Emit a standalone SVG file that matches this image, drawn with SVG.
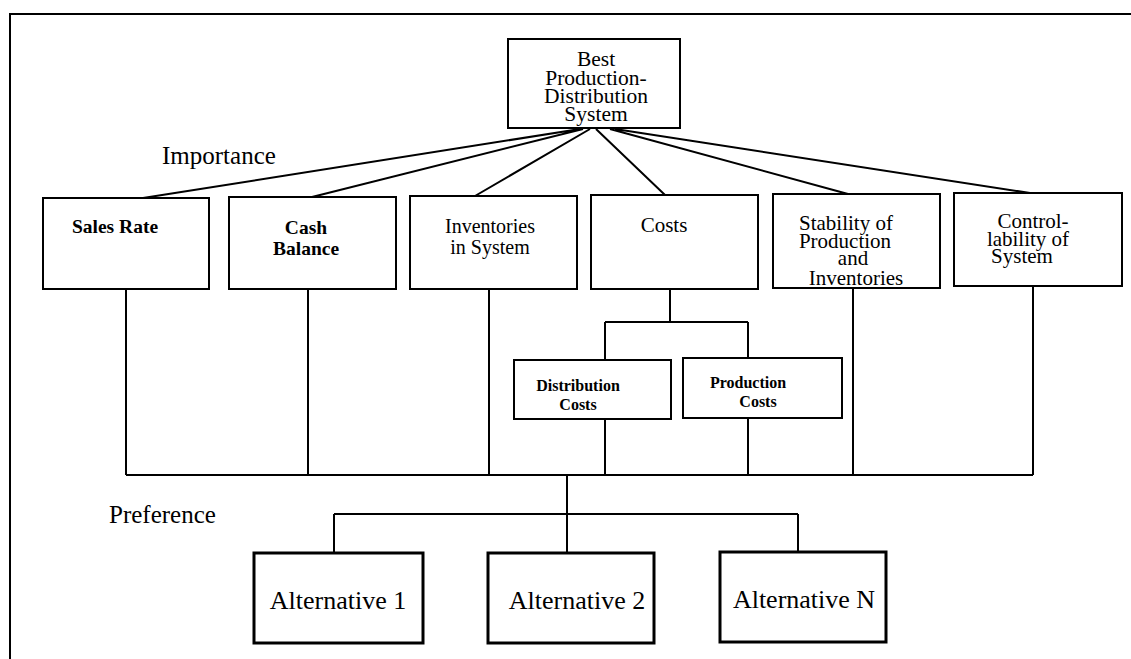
<svg xmlns="http://www.w3.org/2000/svg" width="1131" height="659" viewBox="0 0 1131 659">
<style>
.box{fill:#fff;stroke:#000;stroke-width:2}
.alt{fill:#fff;stroke:#000;stroke-width:3}
.ln{fill:none;stroke:#000;stroke-width:2}
text{font-family:"Liberation Serif","Times New Roman",serif;fill:#000}
.b{font-weight:bold}
</style>
<rect width="1131" height="659" fill="#fff"/>
<g id="frame"><path class="ln" d="M10,659 V14 H1131"/></g>
<g id="connectors">
<path class="ln" d="M580,129 L143,198 M583,129 L312,197 M590,129 L475,196 M596,129 L665,195 M610,129 L848,194 M615,129 L1030,193"/>
<path class="ln" d="M670,289 V322 M605,322 H748 M605,322 V360 M748,322 V358"/>
<path class="ln" d="M126,289 V475 M308,289 V475 M489,289 V475 M605,419 V475 M748,418 V475 M853,288 V475 M1033,286 V475 M126,475 H1033"/>
<path class="ln" d="M567,475 V553 M334,514 H798 M334,514 V553 M798,514 V552"/>
</g>
<g id="labels">
<text x="162" y="164" font-size="25">Importance</text>
<text x="109" y="523" font-size="25">Preference</text>
</g>
<g id="best">
<rect class="box" x="508" y="39" width="172" height="89"/>
<text font-size="21.5" text-anchor="middle"><tspan x="596" y="66">Best</tspan><tspan x="596" y="84.5">Production-</tspan><tspan x="596" y="103">Distribution</tspan><tspan x="596" y="121">System</tspan></text>
</g>
<g id="sales">
<rect class="box" x="43" y="198" width="166" height="91"/>
<text class="b" x="115" y="233" font-size="19.5" text-anchor="middle">Sales Rate</text>
</g>
<g id="cash">
<rect class="box" x="229" y="197" width="167" height="92"/>
<text class="b" font-size="19.5" text-anchor="middle"><tspan x="306" y="234">Cash</tspan><tspan x="306" y="255">Balance</tspan></text>
</g>
<g id="inventories">
<rect class="box" x="410" y="196" width="167" height="93"/>
<text font-size="20" text-anchor="middle"><tspan x="490" y="233">Inventories</tspan><tspan x="490" y="254">in System</tspan></text>
</g>
<g id="costs">
<rect class="box" x="591" y="195" width="167" height="94"/>
<text x="664" y="232" font-size="21" text-anchor="middle">Costs</text>
</g>
<g id="stability">
<rect class="box" x="773" y="194" width="167" height="94"/>
<text font-size="21" text-anchor="middle"><tspan x="846" y="230">Stability of</tspan><tspan x="845" y="247.5">Production</tspan><tspan x="853" y="265">and</tspan><tspan x="856" y="285">Inventories</tspan></text>
</g>
<g id="controllability">
<rect class="box" x="954" y="193" width="168" height="93"/>
<text font-size="21" text-anchor="middle"><tspan x="1033" y="228">Control-</tspan><tspan x="1028" y="245.5">lability of</tspan><tspan x="1022" y="263">System</tspan></text>
</g>
<g id="distribution-costs">
<rect class="box" x="514" y="360" width="157" height="59"/>
<text class="b" font-size="16" text-anchor="middle"><tspan x="578" y="391">Distribution</tspan><tspan x="578" y="410">Costs</tspan></text>
</g>
<g id="production-costs">
<rect class="box" x="683" y="358" width="159" height="60"/>
<text class="b" font-size="16" text-anchor="middle"><tspan x="748" y="388">Production</tspan><tspan x="758" y="407">Costs</tspan></text>
</g>
<g id="alt1">
<rect class="alt" x="254" y="553" width="169" height="90"/>
<text x="338" y="609" font-size="26" text-anchor="middle">Alternative 1</text>
</g>
<g id="alt2">
<rect class="alt" x="488" y="553" width="166" height="90"/>
<text x="577" y="609" font-size="26" text-anchor="middle">Alternative 2</text>
</g>
<g id="altN">
<rect class="alt" x="720" y="552" width="166" height="90"/>
<text x="804" y="608" font-size="26" text-anchor="middle">Alternative N</text>
</g>
</svg>
